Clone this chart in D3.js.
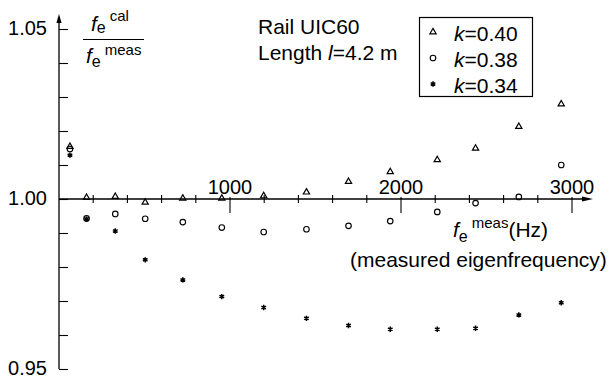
<!DOCTYPE html>
<html>
<head>
<meta charset="utf-8">
<script src="https://cdn.jsdelivr.net/npm/d3@7"></script>
<style>
  body { margin: 0; background: #fff; }
  svg { display: block; font-family: "Liberation Sans", Arial, sans-serif; }
</style>
</head>
<body>
<svg id="chart" width="611" height="377"></svg>
<script>
// measured eigenfrequencies (Hz)
const freqs = [67, 164, 332, 507, 727, 955, 1200, 1450, 1696, 1940, 2215, 2439, 2692, 2940]
// ratio f_cal / f_meas for each k
const k040 = [1.0154, 1.0004, 1.0007, 0.9990, 1.0002, 1.0002, 1.0009, 1.0020, 1.0051, 1.0080, 1.0115, 1.0149, 1.0213, 1.0279]
const k038 = [1.0147, 0.9943, 0.9956, 0.9942, 0.9932, 0.9916, 0.9903, 0.9911, 0.9921, 0.9935, 0.9962, 0.9988, 1.0006, 1.0100]
const k034 = [1.0129, 0.9941, 0.9906, 0.9821, 0.9762, 0.9713, 0.9681, 0.9649, 0.9628, 0.9617, 0.9617, 0.9620, 0.9659, 0.9695]
const seriesNames = ["k=0.40", "k=0.38", "k=0.34"]
const xMajor = [1000, 2000, 3000]
const xMinor = [200, 400, 600, 800, 1200, 1400, 1600, 1800, 2200, 2400, 2600, 2800]
const yTicks = [0.95, 0.96, 0.97, 0.98, 0.99, 1.00, 1.01, 1.02, 1.03, 1.04, 1.05]
const yLabeled = [0.95, 1.00, 1.05]

const svg = d3.select("#chart")
const x = d3.scaleLinear().domain([0, 3000]).range([58.5, 571.5])
const y = d3.scaleLinear().domain([0.95, 1.05]).range([369, 29])
const x0 = 59, yBase = y(1.0)

// asterisk symbol (3 strokes)
const asterisk = {
    draw(ctx, size) {
        const r = Math.sqrt(size) * 0.6
        for (let i = 0; i < 3; i++) {
            const a = Math.PI / 2 + i * Math.PI / 3
            ctx.moveTo(r * Math.cos(a), r * Math.sin(a))
            ctx.lineTo(-r * Math.cos(a), -r * Math.sin(a))
        }
    }
}
const symbols = [
    {type: d3.symbolTriangle, size: 17, fill: "none", sw: 1.2},
    {type: d3.symbolCircle, size: 24, fill: "none", sw: 1.15},
    {type: asterisk, size: 20, fill: "none", sw: 1.5}
]

// y axis
const yAxis = d3.axisLeft(y)
    .tickValues(yTicks)
    .tickSizeInner(-9)
    .tickSizeOuter(0)
    .tickPadding(12)
    .tickFormat(d => yLabeled.some(v => Math.abs(v - d) < 1e-9) ? d3.format(".2f")(d) : "")
const gy = svg.append("g").attr("transform", `translate(${x0},0)`).call(yAxis)
gy.select(".domain").remove()
gy.selectAll("line").attr("stroke", "#000").attr("stroke-width", 1.1)
gy.selectAll("text").attr("font-size", 20).attr("fill", "#000").attr("dy", "0.25em")
    .attr("font-family", "Liberation Sans, Arial, sans-serif")
svg.append("line").attr("x1", x0).attr("x2", x0).attr("y1", 20).attr("y2", y(0.95))
    .attr("stroke", "#000").attr("stroke-width", 1.3)
svg.append("path").attr("d", `M${x0},14 L${x0 - 2.6},23 L${x0 + 2.6},23 Z`).attr("fill", "#000")

// x axis minor ticks
const xMin = d3.axisBottom(x).tickValues(xMinor).tickSize(4).tickFormat("")
const gxm = svg.append("g").attr("transform", `translate(0,${yBase})`).call(xMin)
gxm.select(".domain").remove()
gxm.selectAll("line").attr("y1", -4).attr("y2", 4).attr("stroke", "#000").attr("stroke-width", 1.1)

// x axis major ticks, labels above
const xMaj = d3.axisTop(x).tickValues(xMajor).tickSize(2).tickPadding(3).tickFormat(d3.format("d"))
const gxM = svg.append("g").attr("transform", `translate(0,${yBase})`).call(xMaj)
gxM.select(".domain").remove()
gxM.selectAll("line").attr("y1", -2).attr("y2", 14).attr("stroke", "#000").attr("stroke-width", 1.1)
gxM.selectAll("text").attr("font-size", 20).attr("fill", "#000").attr("font-family", "Liberation Sans, Arial, sans-serif")

svg.append("line").attr("x1", x0).attr("x2", 585).attr("y1", yBase).attr("y2", yBase)
    .attr("stroke", "#000").attr("stroke-width", 1.3)
svg.append("path").attr("d", `M593,${yBase} L582,${yBase - 2.6} L582,${yBase + 2.6} Z`).attr("fill", "#000")

// data
const allSeries = [k040, k038, k034]
allSeries.forEach((vals, si) => {
    const s = symbols[si]
    svg.append("g").selectAll("path")
        .data(vals.map((v, i) => ({f: freqs[i], v: v})))
        .join("path")
        .attr("transform", d => `translate(${x(d.f)},${y(d.v)})`)
        .attr("d", d3.symbol().type(s.type).size(s.size))
        .attr("fill", s.fill)
        .attr("stroke", "#000")
        .attr("stroke-width", s.sw)
})

// y label fraction
const fr = svg.append("g").attr("font-size", 21).attr("fill", "#000")
const num = fr.append("text").attr("x", 91).attr("y", 31)
num.append("tspan").attr("font-style", "italic").text("f")
num.append("tspan").attr("font-size", 16).attr("dy", 2).attr("dx", 0).text("e")
num.append("tspan").attr("font-size", 15).attr("dy", -12).attr("dx", 4).text("cal")
svg.append("line").attr("x1", 83).attr("x2", 144).attr("y1", 39.5).attr("y2", 39.5)
    .attr("stroke", "#000").attr("stroke-width", 1.2)
const den = fr.append("text").attr("x", 86).attr("y", 63)
den.append("tspan").attr("font-style", "italic").text("f")
den.append("tspan").attr("font-size", 16).attr("dy", 4).text("e")
den.append("tspan").attr("font-size", 15).attr("dy", -12).attr("dx", 4).text("meas")

// title text
const tt = svg.append("g").attr("font-size", 21).attr("fill", "#000")
tt.append("text").attr("x", 258).attr("y", 34).text("Rail UIC60")
const len = tt.append("text").attr("x", 258).attr("y", 60)
len.append("tspan").text("Length ")
len.append("tspan").attr("font-style", "italic").text("l")
len.append("tspan").text("=4.2 m")

// legend
svg.append("rect").attr("x", 419.5).attr("y", 17.5).attr("width", 113).attr("height", 79)
    .attr("fill", "#fff").attr("stroke", "#000").attr("stroke-width", 1.2)
seriesNames.forEach((name, i) => {
    const cy = 32 + i * 26
    const s = symbols[i]
    svg.append("path")
        .attr("transform", `translate(433,${cy})`)
        .attr("d", d3.symbol().type(s.type).size(s.size))
        .attr("fill", s.fill).attr("stroke", "#000").attr("stroke-width", s.sw)
    const t = svg.append("text").attr("x", 454).attr("y", cy + 9).attr("font-size", 21).attr("fill", "#000")
    t.append("tspan").attr("font-style", "italic").text("k")
    t.append("tspan").text(name.slice(1))
})

// x label
const xl = svg.append("text").attr("x", 453).attr("y", 237).attr("font-size", 21).attr("fill", "#000")
xl.append("tspan").attr("font-style", "italic").text("f")
xl.append("tspan").attr("font-size", 16).attr("dy", 5).text("e")
xl.append("tspan").attr("font-size", 15).attr("dy", -14).attr("dx", 4).text("meas")
xl.append("tspan").attr("dy", 9).text("(Hz)")
svg.append("text").attr("x", 350).attr("y", 267).attr("font-size", 21).attr("fill", "#000")
    .text("(measured eigenfrequency)")
</script>
</body>
</html>
